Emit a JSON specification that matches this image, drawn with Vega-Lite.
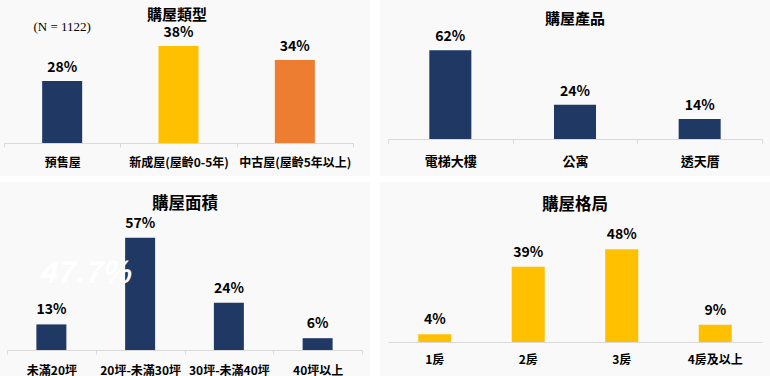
{
  "$schema": "https://vega.github.io/schema/vega-lite/v6.json",
  "background": "#ffffff",
  "padding": 0,
  "config": {
    "view": {"stroke": null, "fill": "#f9f9f9"},
    "font": "Noto Sans CJK TC",
    "title": {"font": "Noto Sans CJK TC", "fontWeight": "bold", "color": "#000000", "anchor": "middle", "baseline": "bottom"}
  },
  "columns": 2,
  "spacing": {"row": 6, "column": 10},
  "concat": [
    {
      "width": 370,
      "height": 176,
      "title": {"text": "購屋類型", "fontSize": 15, "offset": -23, "dx": -8},
      "data": {"values": [
        {"cat": "預售屋", "v": 0.28, "note": "(N = 1122)"},
        {"cat": "新成屋(屋齡0-5年)", "v": 0.38, "note": ""},
        {"cat": "中古屋(屋齡5年以上)", "v": 0.34, "note": ""}
      ]},
      "layer": [
        {
          "mark": {"type": "bar", "width": {"band": 0.344}},
          "encoding": {
            "x": {"field": "cat", "type": "nominal", "sort": null,
              "scale": {"range": [4, 353], "paddingInner": 0, "paddingOuter": 0},
              "axis": {"title": null, "offset": -33, "domainColor": "#d9d9d9", "tickColor": "#d9d9d9", "tickSize": 4, "tickBand": "extent", "labelAngle": 0, "labelFont": "Noto Sans CJK TC", "labelFontWeight": "bold", "labelFontSize": 12, "labelColor": "#000000", "labelPadding": 10.5, "labelOverlap": false}},
            "y": {"field": "v", "type": "quantitative", "scale": {"domain": [0.0087, 0.5116], "zero": false, "nice": false}, "axis": null},
            "y2": {"datum": 0.103},
            "color": {
              "condition": [
                {"test": "datum.cat === '新成屋(屋齡0-5年)'", "value": "#FFC000"},
                {"test": "datum.cat === '中古屋(屋齡5年以上)'", "value": "#ED7D31"}
              ],
              "value": "#203864"
            }
          }
        },
        {
          "mark": {"type": "text", "baseline": "alphabetic", "dy": -9, "fontSize": 14, "fontWeight": "bold", "color": "#000000"},
          "encoding": {
            "x": {"field": "cat", "type": "nominal", "sort": null},
            "y": {"field": "v", "type": "quantitative"},
            "text": {"field": "v", "type": "quantitative", "format": ".0%"}
          }
        },
        {
          "transform": [{"filter": "datum.note !== ''"}],
          "mark": {"type": "text", "font": "Liberation Serif", "fontSize": 13, "color": "#000000", "baseline": "middle", "dy": -54},
          "encoding": {
            "x": {"field": "cat", "type": "nominal", "sort": null},
            "y": {"field": "v", "type": "quantitative"},
            "text": {"field": "note", "type": "nominal"}
          }
        }
      ]
    },
    {
      "width": 390,
      "height": 176,
      "title": {"text": "購屋產品", "fontSize": 15, "offset": -27},
      "data": {"values": [
        {"cat": "電梯大樓", "v": 0.62},
        {"cat": "公寓", "v": 0.24},
        {"cat": "透天厝", "v": 0.14}
      ]},
      "layer": [
        {
          "mark": {"type": "bar", "width": {"band": 0.337}, "color": "#203864"},
          "encoding": {
            "x": {"field": "cat", "type": "nominal", "sort": null,
              "scale": {"range": [8, 382], "paddingInner": 0, "paddingOuter": 0},
              "axis": {"title": null, "offset": -37, "domainColor": "#d9d9d9", "tickColor": "#d9d9d9", "tickSize": 4, "tickBand": "extent", "labelAngle": 0, "labelFont": "Noto Sans CJK TC", "labelFontWeight": "bold", "labelFontSize": 13, "labelColor": "#000000", "labelPadding": 12, "labelOverlap": false}},
            "y": {"field": "v", "type": "quantitative", "scale": {"domain": [-0.259, 0.972], "zero": false, "nice": false}, "axis": null}
          }
        },
        {
          "mark": {"type": "text", "baseline": "alphabetic", "dy": -9, "fontSize": 14, "fontWeight": "bold", "color": "#000000"},
          "encoding": {
            "x": {"field": "cat", "type": "nominal", "sort": null},
            "y": {"field": "v", "type": "quantitative"},
            "text": {"field": "v", "type": "quantitative", "format": ".0%"}
          }
        }
      ]
    },
    {
      "width": 370,
      "height": 194,
      "title": {"text": "購屋面積", "fontSize": 16.5, "offset": -30},
      "data": {"values": [
        {"cat": "未滿20坪", "v": 0.13, "wm": "47.7%"},
        {"cat": "20坪-未滿30坪", "v": 0.57, "wm": ""},
        {"cat": "30坪-未滿40坪", "v": 0.24, "wm": ""},
        {"cat": "40坪以上", "v": 0.06, "wm": ""}
      ]},
      "layer": [
        {
          "mark": {"type": "bar", "width": {"band": 0.338}, "color": "#203864"},
          "encoding": {
            "x": {"field": "cat", "type": "nominal", "sort": null,
              "scale": {"range": [7, 362], "paddingInner": 0, "paddingOuter": 0},
              "axis": {"title": null, "offset": -26, "domainColor": "#d9d9d9", "tickColor": "#d9d9d9", "tickSize": 4, "tickBand": "extent", "labelAngle": 0, "labelFont": "Noto Sans CJK TC", "labelFontWeight": "bold", "labelFontSize": 12, "labelColor": "#000000", "labelPadding": 11.5, "labelOverlap": false}},
            "y": {"field": "v", "type": "quantitative", "scale": {"domain": [-0.132, 0.853], "zero": false, "nice": false}, "axis": null}
          }
        },
        {
          "mark": {"type": "text", "baseline": "alphabetic", "dy": -10, "fontSize": 14, "fontWeight": "bold", "color": "#000000"},
          "encoding": {
            "x": {"field": "cat", "type": "nominal", "sort": null},
            "y": {"field": "v", "type": "quantitative"},
            "text": {"field": "v", "type": "quantitative", "format": ".0%"}
          }
        },
        {
          "transform": [{"filter": "datum.wm !== ''"}],
          "mark": {"type": "text", "fontSize": 30, "fontWeight": "bold", "fontStyle": "italic", "color": "#ffffff", "align": "left", "baseline": "middle", "dx": -13, "dy": -50},
          "encoding": {
            "x": {"field": "cat", "type": "nominal", "sort": null},
            "y": {"field": "v", "type": "quantitative"},
            "text": {"field": "wm", "type": "nominal"}
          }
        }
      ]
    },
    {
      "width": 390,
      "height": 194,
      "title": {"text": "購屋格局", "fontSize": 16.5, "offset": -31},
      "data": {"values": [
        {"cat": "1房", "v": 0.04},
        {"cat": "2房", "v": 0.39},
        {"cat": "3房", "v": 0.48},
        {"cat": "4房及以上", "v": 0.09}
      ]},
      "layer": [
        {
          "mark": {"type": "bar", "width": {"band": 0.353}, "color": "#FFC000"},
          "encoding": {
            "x": {"field": "cat", "type": "nominal", "sort": null,
              "scale": {"range": [8, 382], "paddingInner": 0, "paddingOuter": 0},
              "axis": {"title": null, "offset": -34, "domainColor": "#d9d9d9", "ticks": false, "tickSize": 0, "labelAngle": 0, "labelFont": "Noto Sans CJK TC", "labelFontWeight": "bold", "labelFontSize": 12, "labelColor": "#000000", "labelPadding": 12.5, "labelOverlap": false}},
            "y": {"field": "v", "type": "quantitative", "scale": {"domain": [-0.176, 0.829], "zero": false, "nice": false}, "axis": null}
          }
        },
        {
          "mark": {"type": "text", "baseline": "alphabetic", "dy": -10, "fontSize": 14, "fontWeight": "bold", "color": "#000000"},
          "encoding": {
            "x": {"field": "cat", "type": "nominal", "sort": null},
            "y": {"field": "v", "type": "quantitative"},
            "text": {"field": "v", "type": "quantitative", "format": ".0%"}
          }
        }
      ]
    }
  ]
}
